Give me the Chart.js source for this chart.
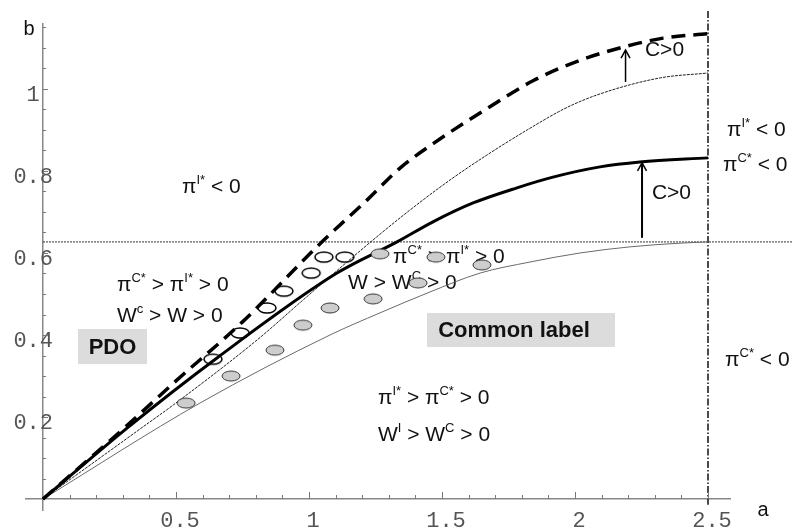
<!DOCTYPE html>
<html>
<head>
<meta charset="utf-8">
<script src="https://cdn.jsdelivr.net/npm/chart.js@4/dist/chart.umd.min.js"></script>
<style>
html,body{margin:0;padding:0;background:#fff;}
#wrap{width:793px;height:531px;}
</style>
</head>
<body>
<div id="wrap"><canvas id="c" width="793" height="531"></canvas></div>
<script>
// ---- data ----
const dashedA = [0, 0.3, 0.5, 0.75, 1.05, 1.218, 1.342, 1.492, 1.669, 1.842, 2.019, 2.18, 2.331, 2.5];
const dashedB = [0, 0.17, 0.288, 0.432, 0.628, 0.729, 0.807, 0.878, 0.952, 1.02, 1.07, 1.102, 1.124, 1.135];

const solidA = [0, 0.316, 0.654, 1.105, 1.331, 1.466, 1.617, 1.782, 1.917, 2.094, 2.244, 2.5];
const solidB = [0, 0.173, 0.344, 0.551, 0.627, 0.676, 0.722, 0.759, 0.785, 0.810, 0.822, 0.832];

const thinA = [0, 0.376, 0.489, 0.805, 0.977, 1.143, 1.256, 1.38, 1.53, 1.669, 1.82, 1.97, 2.094, 2.32, 2.5];
const thinB = [0, 0.176, 0.229, 0.388, 0.485, 0.578, 0.640, 0.705, 0.778, 0.839, 0.900, 0.955, 0.988, 1.027, 1.039];

const greyA = [0, 0.59, 1.079, 1.267, 1.455, 1.643, 1.831, 2.019, 2.207, 2.395, 2.5];
const greyB = [0, 0.234, 0.400, 0.454, 0.505, 0.551, 0.578, 0.600, 0.615, 0.624, 0.627];

const hLineA = [0, 2.83];
const hLineB = [0.627, 0.627];
const vLineA = [2.5, 2.5];
const vLineB = [1.19, -0.014];

const openA = [0.639, 0.741, 0.842, 0.906, 1.008, 1.056, 1.135];
const openB = [0.341, 0.405, 0.466, 0.507, 0.551, 0.590, 0.590];

const grayA = [0.538, 0.707, 0.872, 0.977, 1.079, 1.241, 1.267, 1.410, 1.477, 1.650];
const grayB = [0.234, 0.300, 0.363, 0.424, 0.466, 0.488, 0.598, 0.527, 0.590, 0.571];

const arrowA = [2.19, 2.252];
const arrowFromB = [1.017, 0.637];
const arrowToB = [1.095, 0.820];

const xTickValues = [0.5, 1, 1.5, 2, 2.5];
const xTickLabels = ['0.5', '1', '1.5', '2', '2.5'];
const yTickValues = [0.2, 0.4, 0.6, 0.8, 1];
const yTickLabels = ['0.2', '0.4', '0.6', '0.8', '1 '];

const xMinor = []; for (let k = 1; k <= 25; k++) xMinor.push(k / 10);
const yMinor = []; for (let k = 1; k <= 23; k++) yMinor.push(k / 20);

const pts = (A, B) => A.map((a, i) => ({x: a, y: B[i]}));

const SANS = '"Liberation Sans", Arial, sans-serif';

function ellipseImg(fill, stroke, lw) {
  const c = document.createElement('canvas');
  c.width = 22; c.height = 14;
  const g = c.getContext('2d');
  g.beginPath();
  g.ellipse(11, 7, 9, 5, 0, 0, Math.PI * 2);
  if (fill) { g.fillStyle = fill; g.fill(); }
  g.lineWidth = lw; g.strokeStyle = stroke; g.stroke();
  return c;
}

// annotation texts: anchor (a, b) and text parts
const notes = [
  {a: 0.5226, b: 0.761, parts: [['π'], ['I*', 1], [' < 0']]},
  {a: 0.278, b: 0.522, parts: [['π'], ['C*', 1], [' > π'], ['I*', 1], [' > 0']]},
  {a: 0.278, b: 0.446, parts: [['W'], ['c', 1], [' > W > 0']]},
  {a: 1.316, b: 0.590, parts: [['π'], ['C*', 1], [' > π'], ['I*', 1], [' > 0']]},
  {a: 1.147, b: 0.527, parts: [['W > W'], ['C', 1], [' > 0']]},
  {a: 1.259, b: 0.2463, parts: [['π'], ['I*', 1], [' > π'], ['C*', 1], [' > 0']]},
  {a: 1.259, b: 0.156, parts: [['W'], ['I', 1], [' > W'], ['C', 1], [' > 0']]},
  {a: 2.571, b: 0.900, parts: [['π'], ['I*', 1], [' < 0']]},
  {a: 2.556, b: 0.8146, parts: [['π'], ['C*', 1], [' < 0']]},
  {a: 2.564, b: 0.339, parts: [['π'], ['C*', 1], [' < 0']]},
  {a: 2.263, b: 1.095, parts: [['C>0']]},
  {a: 2.289, b: 0.746, parts: [['C>0']]}
];
const boxes = [
  {a0: 0.1316, a1: 0.391, b0: 0.4146, b1: 0.329, text: 'PDO', ta: 0.2613},
  {a0: 1.4436, a1: 2.1504, b0: 0.4537, b1: 0.3707, text: 'Common label', ta: 1.7707}
];

function drawParts(ctx, x, y, parts, size) {
  let cx = x;
  for (const [t, sup] of parts) {
    ctx.font = (sup ? 13 : size) + 'px ' + SANS;
    ctx.fillText(t, cx, sup ? y - 7 : y);
    cx += ctx.measureText(t).width;
  }
}

const annot = {
  id: 'annot',
  beforeDatasetsDraw(chart) {
    const ctx = chart.ctx, xs = chart.scales.x, ys = chart.scales.y;
    ctx.save();
    for (const bx of boxes) {
      const x0 = xs.getPixelForValue(bx.a0), x1 = xs.getPixelForValue(bx.a1);
      const y0 = ys.getPixelForValue(bx.b0), y1 = ys.getPixelForValue(bx.b1);
      ctx.fillStyle = '#dcdcdc';
      ctx.fillRect(x0, y0, x1 - x0, y1 - y0);
      ctx.fillStyle = '#111';
      ctx.font = 'bold 22px ' + SANS;
      ctx.textAlign = 'center'; ctx.textBaseline = 'middle';
      ctx.fillText(bx.text, xs.getPixelForValue(bx.ta), (y0 + y1) / 2 + 1);
    }
    ctx.textAlign = 'left'; ctx.textBaseline = 'middle';
    ctx.fillStyle = '#111';
    for (const n of notes) {
      drawParts(ctx, xs.getPixelForValue(n.a), ys.getPixelForValue(n.b), n.parts, 21);
    }
    // axis names
    ctx.font = '20px ' + SANS;
    ctx.textAlign = 'center';
    ctx.fillText('b', xs.getPixelForValue(-0.0526), ys.getPixelForValue(1.144));
    ctx.fillText('a', xs.getPixelForValue(2.707), ys.getPixelForValue(-0.0268));
    ctx.restore();
  },
  afterDatasetsDraw(chart) {
    const ctx = chart.ctx, xs = chart.scales.x, ys = chart.scales.y;
    ctx.save();
    // tick marks (inward)
    ctx.strokeStyle = '#777'; ctx.lineWidth = 1;
    const y0 = ys.getPixelForValue(0), x0 = xs.getPixelForValue(0);
    for (const t of xs.ticks) {
      const px = Math.round(xs.getPixelForValue(t.value)) + 0.5;
      const major = Math.abs(t.value * 2 - Math.round(t.value * 2)) < 1e-6;
      ctx.beginPath(); ctx.moveTo(px, y0); ctx.lineTo(px, y0 - (major ? 7 : 4)); ctx.stroke();
    }
    for (const t of ys.ticks) {
      const py = Math.round(ys.getPixelForValue(t.value)) + 0.5;
      const major = Math.abs(t.value * 5 - Math.round(t.value * 5)) < 1e-6;
      ctx.beginPath(); ctx.moveTo(x0, py); ctx.lineTo(x0 + (major ? 5 : 3), py); ctx.stroke();
    }
    // arrows
    ctx.strokeStyle = '#000';
    for (let i = 0; i < arrowA.length; i++) {
      const px = xs.getPixelForValue(arrowA[i]);
      const pf = ys.getPixelForValue(arrowFromB[i]);
      const pt = ys.getPixelForValue(arrowToB[i]);
      ctx.lineWidth = i === 0 ? 1.5 : 2;
      ctx.beginPath(); ctx.moveTo(px, pf); ctx.lineTo(px, pt); ctx.stroke();
      ctx.lineWidth = 1.5;
      ctx.beginPath(); ctx.moveTo(px - 4.5, pt + 8); ctx.lineTo(px, pt); ctx.lineTo(px + 4.5, pt + 8); ctx.stroke();
    }
    ctx.restore();
  }
};

const xMin = -0.0639, xMax = 2.5827, yMin = -0.0268, yMax = 1.1585;
const xShift = 0.015, yShift = 0.0146;
const tickFont = {family: '"Liberation Mono", "Courier New", monospace', size: 22};

new Chart(document.getElementById('c'), {
  type: 'scatter',
  data: {
    datasets: [
      {data: pts(dashedA, dashedB), showLine: true, borderColor: '#000', borderWidth: 3.5, borderDash: [14, 8], pointRadius: 0, cubicInterpolationMode: 'monotone', order: 1},
      {data: pts(solidA, solidB), showLine: true, borderColor: '#000', borderWidth: 3, pointRadius: 0, cubicInterpolationMode: 'monotone', order: 1},
      {data: pts(thinA, thinB), showLine: true, borderColor: '#222', borderWidth: 1, borderDash: [3, 1], pointRadius: 0, cubicInterpolationMode: 'monotone', order: 1},
      {data: pts(greyA, greyB), showLine: true, borderColor: '#6a6a6a', borderWidth: 1, pointRadius: 0, cubicInterpolationMode: 'monotone', order: 1},
      {data: pts(hLineA, hLineB), showLine: true, borderColor: '#333', borderWidth: 1, borderDash: [2, 1], pointRadius: 0, clip: false, order: 1},
      {data: pts(vLineA, vLineB), showLine: true, borderColor: '#111', borderWidth: 1.5, borderDash: [7, 2, 1.5, 2], pointRadius: 0, clip: false, order: 1},
      {data: pts(openA, openB), showLine: false, pointStyle: ellipseImg('#fff', '#000', 1.5), pointRadius: 9, order: 3},
      {data: pts(grayA, grayB), showLine: false, pointStyle: ellipseImg('#cdcdcd', '#333', 1), pointRadius: 9, order: 0}
    ]
  },
  options: {
    responsive: false,
    animation: false,
    events: [],
    layout: {padding: {left: 26, right: 63, top: 24, bottom: 21}},
    plugins: {legend: {display: false}, tooltip: {enabled: false}},
    scales: {
      x: {
        type: 'linear', min: xMin, max: xMax, position: {y: 0},
        afterBuildTicks: s => { s.ticks = xMinor.map(v => ({value: v})); },
        ticks: {display: false},
        grid: {display: true, drawOnChartArea: false, drawTicks: false},
        border: {display: true, color: '#888', width: 1.5}
      },
      y: {
        type: 'linear', min: yMin, max: yMax, position: {x: 0},
        afterBuildTicks: s => { s.ticks = yMinor.map(v => ({value: v})); },
        ticks: {display: false},
        grid: {display: true, drawOnChartArea: false, drawTicks: false},
        border: {display: true, color: '#888', width: 1.5}
      },
      x2: {
        axis: 'x', type: 'linear', min: xMin - xShift, max: xMax - xShift, position: {y: 0},
        afterBuildTicks: s => { s.ticks = xTickValues.map(v => ({value: v})); },
        ticks: {
          autoSkip: false, maxRotation: 0, padding: 9, color: '#555', font: tickFont,
          callback: (v) => { const i = xTickValues.indexOf(v); return i >= 0 ? xTickLabels[i] : ''; }
        },
        grid: {display: false, drawTicks: false},
        border: {display: false}
      },
      y2: {
        axis: 'y', type: 'linear', min: yMin + yShift, max: yMax + yShift, position: {x: 0.0376},
        afterBuildTicks: s => { s.ticks = yTickValues.map(v => ({value: v})); },
        ticks: {
          autoSkip: false, padding: 0, color: '#555', font: tickFont,
          callback: (v) => { const i = yTickValues.indexOf(v); return i >= 0 ? yTickLabels[i] : ''; }
        },
        grid: {display: false, drawTicks: false},
        border: {display: false}
      }
    }
  },
  plugins: [annot]
});
</script>
</body>
</html>
